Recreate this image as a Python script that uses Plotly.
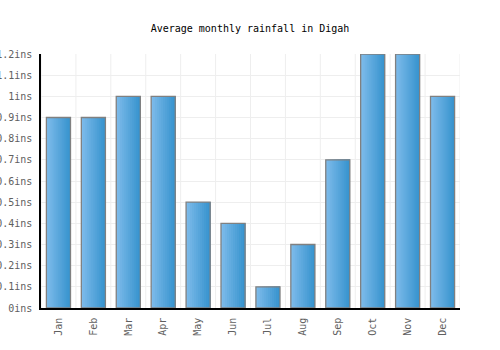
import plotly.graph_objects as go

months = ["Jan", "Feb", "Mar", "Apr", "May", "Jun", "Jul", "Aug", "Sep", "Oct", "Nov", "Dec"]
rainfall = [0.9, 0.9, 1.0, 1.0, 0.5, 0.4, 0.1, 0.3, 0.7, 1.2, 1.2, 1.0]
y_ticks = [0, 0.1, 0.2, 0.3, 0.4, 0.5, 0.6, 0.7, 0.8, 0.9, 1.0, 1.1, 1.2]
y_labels = ["0ins", "0.1ins", "0.2ins", "0.3ins", "0.4ins", "0.5ins", "0.6ins",
            "0.7ins", "0.8ins", "0.9ins", "1ins", "1.1ins", "1.2ins"]

FONT = "DejaVu Sans Mono"
bar_w = 0.69
n_slices = 12
c0 = (124, 186, 234)
c1 = (56, 148, 206)

fig = go.Figure()
x_idx = list(range(len(months)))
for i in range(n_slices):
    t = i / (n_slices - 1)
    col = "rgb(%d,%d,%d)" % tuple(round(a + (b - a) * t) for a, b in zip(c0, c1))
    start = -bar_w / 2 + i * bar_w / n_slices
    fig.add_trace(go.Bar(
        x=x_idx, y=rainfall, width=bar_w / 2 - start,
        offset=start,
        marker=dict(color=col, line=dict(width=0)),
        showlegend=False, hoverinfo="skip"))
fig.add_trace(go.Bar(
    x=x_idx, y=rainfall, width=bar_w, offset=-bar_w / 2,
    marker=dict(color="rgba(0,0,0,0)", line=dict(color="#808080", width=1.3)),
    showlegend=False))

fig.update_layout(
    barmode="overlay",
    width=500, height=350,
    margin=dict(l=41, r=40, t=54, b=42),
    paper_bgcolor="white", plot_bgcolor="white",
    title=dict(text="Average monthly rainfall in Digah", x=0.5, xanchor="center",
               y=1 - 28 / 350, yanchor="middle",
               font=dict(family=FONT, size=10, color="#000")),
    font=dict(family=FONT, size=10, color="#606060"),
    xaxis=dict(range=[-0.5, 11.5], tickmode="array", tickvals=x_idx, ticktext=months,
               tickangle=-90, showgrid=False, showline=True, linecolor="#000", linewidth=1.5,
               ticks="", ticklabelstandoff=4, zeroline=False, automargin=False),
    yaxis=dict(range=[0, 1.2], tickmode="array", tickvals=y_ticks, ticktext=y_labels,
               showgrid=True, gridcolor="#eeeeee", gridwidth=1, showline=True,
               linecolor="#000", linewidth=1.5, ticks="", zeroline=False,
               ticklabelstandoff=5, automargin=False),
)
for k in range(len(months) + 1):
    fig.add_shape(type="line", x0=k - 0.5, x1=k - 0.5, y0=0, y1=1.2,
                  xref="x", yref="y", line=dict(color="#eeeeee", width=1), layer="below")

fig.write_html("out.html")
